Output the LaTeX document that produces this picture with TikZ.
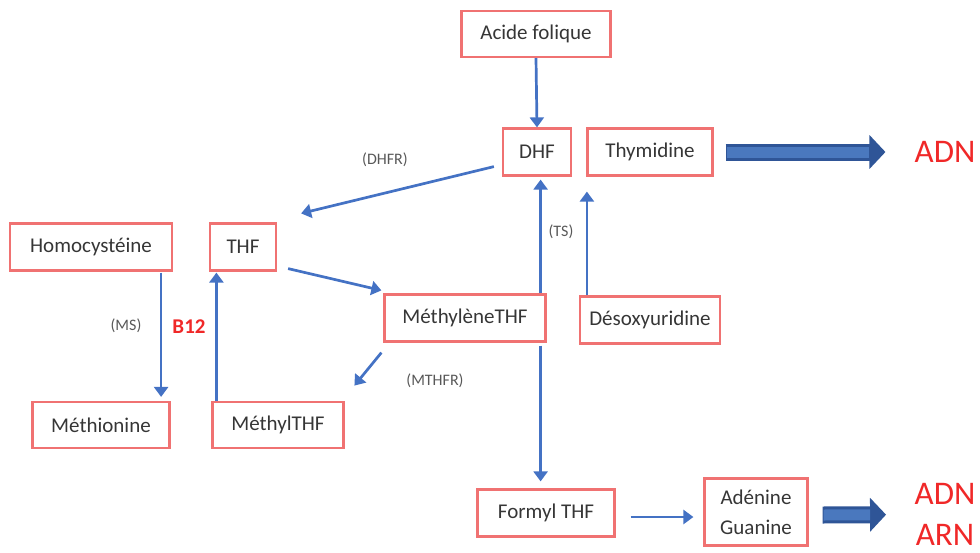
\documentclass[tikz,border=0pt]{standalone}
\usepackage{fontspec}
\setmainfont{Carlito}
\usetikzlibrary{arrows.meta,calc}
\definecolor{boxred}{HTML}{F07272}
\definecolor{arrblue}{HTML}{4472C4}
\definecolor{thickblue}{HTML}{4A78BE}
\definecolor{darkblue}{HTML}{2F5597}
\definecolor{txt}{HTML}{363636}
\definecolor{lbl}{HTML}{585858}
\definecolor{redtxt}{HTML}{F02828}
\begin{document}
\begin{tikzpicture}[x=1pt,y=-1pt,
 box/.style={draw=boxred, line width=2.2pt, rectangle, inner sep=0pt, text=txt, font=\fontsize{21}{30}\selectfont, align=center},
 conn/.style={draw=arrblue, line width=2.7pt, -{Triangle[length=10pt,width=14pt]}},
 lab/.style={text=lbl, font=\fontsize{16}{18}\selectfont, inner sep=0pt},
 big/.style={text=redtxt, font=\fontsize{33}{36}\selectfont, inner sep=0pt},
 thickout/.style={darkblue, line width=17pt, -{Triangle[length=16pt,width=33pt]}},
 thickin/.style={thickblue, line width=11pt},
]
\useasboundingbox (0,0) rectangle (980,552);
% boxes
\node[box, minimum width=149pt, minimum height=46pt] (acide) at (536,34) {Acide folique};
\node[box, minimum width=68pt, minimum height=47pt] (dhf) at (537,152) {DHF};
\node[box, minimum width=125pt, minimum height=47pt] (thym) at (650,152) {Thymidine};
\node[box, minimum width=162pt, minimum height=47pt] (homo) at (91,247) {Homocystéine};
\node[box, minimum width=66pt, minimum height=47pt] (thf) at (243,247) {THF};
\node[box, minimum width=161pt, minimum height=47pt] (meth) at (465,318) {MéthylèneTHF};
\node[box, minimum width=140pt, minimum height=47pt] (desox) at (650,320) {Désoxyuridine};
\node[box, minimum width=137pt, minimum height=46pt] (methio) at (101,425) {Méthionine};
\node[box, minimum width=131pt, minimum height=46pt] (methyl) at (278,425) {MéthylTHF};
\node[box, minimum width=137pt, minimum height=47pt] (formyl) at (546,513) {Formyl THF};
\node[box, minimum width=103pt, minimum height=67pt] (aden) at (756,512) {Adénine\\Guanine};
% big labels
\node[big] (adn1) at (945,152) {ADN};
\node[big] (adn2) at (945,494) {ADN};
\node[big] (arn) at (945,535) {ARN};
\coordinate (nucl) at ($(adn2.west)!0.5!(arn.west)$);
% small labels
\node[lab] (ldhfr) at (385,160) {(DHFR)};
\node[lab] (lts) at (561,232) {(TS)};
\node[lab] (lms) at (126,326) {(MS)};
\node[lab] (lmthfr) at (435,381) {(MTHFR)};
\node[text=redtxt, font=\bfseries\fontsize{21}{24}\selectfont, inner sep=0pt] (b12) at (189,327) {B12};
% connectors
\draw[conn] (acide.south) -- (dhf.north);
\draw[conn] ($(dhf.south west)+(-8,-10)$) -- ($(thf.north east)+(24,-9)$);
\draw[conn] ($(thf.south east)+(11,-3)$) -- ($(meth.north west)+(-2,-3)$);
\coordinate (mup) at ($(meth.north east)+(-6,0)$);
\draw[conn, shorten >=3pt] (mup) -- (mup |- dhf.south);
\coordinate (dup) at ($(desox.north west)+(8,0)$);
\draw[conn, shorten >=15pt] (dup) -- (dup |- thym.south);
\coordinate (mthfrend) at ($(meth.south west)+(-29,43)$);
\draw[conn] ($(meth.south west)+(-2,10)$) -- (mthfrend);
\coordinate (mdown) at ($(meth.south east)+(-6,3)$);
\draw[conn, shorten >=7pt] (mdown) -- (mdown |- formyl.north);
\draw[conn] ($(formyl.east)+(15,4)$) -- ($(aden.west)+(-10,5)$);
\coordinate (hdown) at ($(homo.south east)+(-12,1)$);
\draw[conn, shorten >=4pt] (hdown) -- (hdown |- methio.north);
\coordinate (tup) at ($(methyl.north west)+(5,0)$);
\draw[conn, shorten >=1pt] (tup) -- (tup |- thf.south);
% thick arrows
\draw[thickout, shorten >=29pt] ($(thym.east)+(12,0)$) -- (adn1.west);
\draw[thickin, shorten >=45pt] ($(thym.east)+(13,0)$) -- (adn1.west);
\draw[thickout, shorten >=29pt] ($(aden.east)+(14,3)$) -- (nucl);
\draw[thickin, shorten >=45pt] ($(aden.east)+(15,3)$) -- (nucl);
\end{tikzpicture}
\end{document}
